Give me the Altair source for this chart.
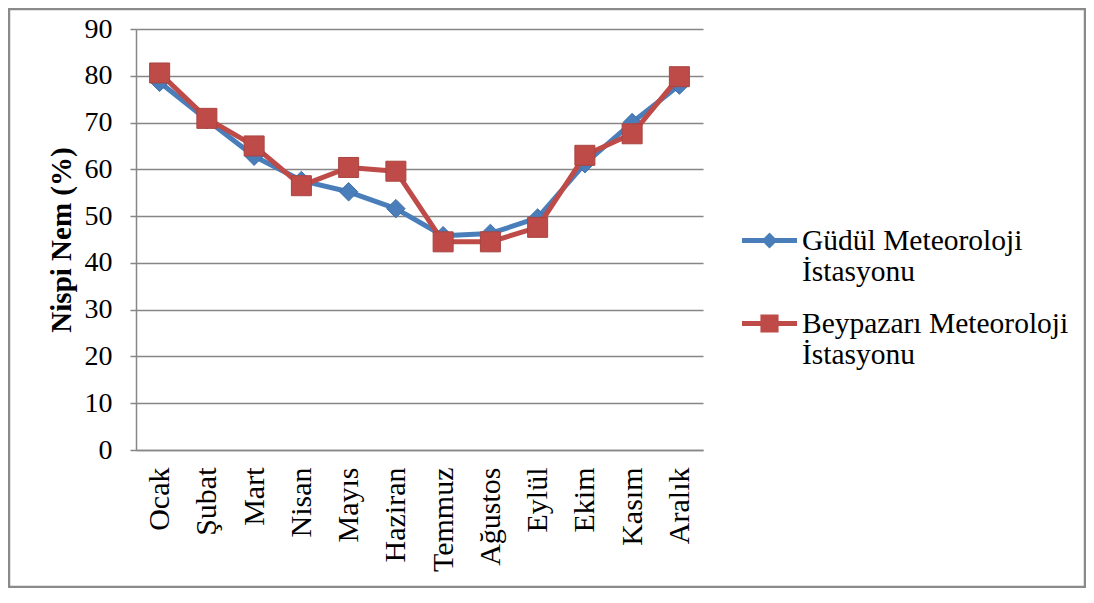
import altair as alt
import pandas as pd

months = ["Ocak", "Şubat", "Mart", "Nisan", "Mayıs", "Haziran",
          "Temmuz", "Ağustos", "Eylül", "Ekim", "Kasım", "Aralık"]
gudul = [78.6, 70.6, 62.8, 57.6, 55.2, 51.6, 45.8, 46.3, 49.6, 61.2, 70.0, 78.0]
beypazari = [80.6, 70.9, 65.0, 56.5, 60.4, 59.6, 44.5, 44.5, 47.6, 63.0, 67.6, 79.8]
series_names = ["Güdül Meteoroloji İstasyonu", "Beypazarı Meteoroloji İstasyonu"]
y_ticks = [0, 10, 20, 30, 40, 50, 60, 70, 80, 90]

FONT = "Liberation Serif"
BLUE = "#4A7EBB"
RED = "#BE4B48"

df = pd.DataFrame({
    "ay": months * 2,
    "nem": gudul + beypazari,
    "seri": [series_names[0]] * 12 + [series_names[1]] * 12,
})

W, H = 567, 421
PL, PT, PR, PB = 128, 21, 383, 138

x_enc = alt.X("ay:N", sort=months,
              scale=alt.Scale(type="point", padding=0.5),
              axis=alt.Axis(title=None, labelAngle=-90, labelFont=FONT, labelFontSize=30,
                            labelColor="black", labelPadding=17, ticks=False,
                            domainColor="#868686", domainWidth=1.5, grid=False,
                            labelAlign="right", labelBaseline="middle"))
y_enc = alt.Y("nem:Q",
              scale=alt.Scale(domain=[0, 90], nice=False, zero=True),
              axis=alt.Axis(title="Nispi Nem (%)", values=y_ticks, labelFont=FONT,
                            labelFontSize=28, labelColor="black", labelPadding=18,
                            tickSize=6, tickColor="#868686", tickWidth=1.5,
                            domainColor="#868686", domainWidth=1.5,
                            gridColor="#868686", gridWidth=1.5,
                            titleFont=FONT, titleFontSize=29, titleFontWeight="bold",
                            titleColor="black", titlePadding=8))

base = alt.Chart(df).encode(x=x_enc, y=y_enc)

def series_layers(name, color, shape, size, stroke):
    sub = base.transform_filter(alt.datum.seri == name)
    line = sub.mark_line(color=color, strokeWidth=5, strokeCap="round", strokeJoin="round")
    pts = sub.mark_point(shape=shape, size=size, filled=True, fill=color,
                         stroke=stroke, strokeWidth=1, opacity=1)
    return line, pts

l1, p1 = series_layers(series_names[0], BLUE, "diamond", 340, "#3F6FA8")
l2, p2 = series_layers(series_names[1], RED, "square", 400, "#A94440")

path_diamond = ("M-1,-0.09 L-0.2,-0.09 L0,-0.29 L0.2,-0.09 L1,-0.09 L1,0.09 "
                "L0.2,0.09 L0,0.29 L-0.2,0.09 L-1,0.09 Z")
path_square = ("M-1,-0.09 L-0.33,-0.09 L-0.33,-0.33 L0.33,-0.33 L0.33,-0.09 L1,-0.09 "
               "L1,0.09 L0.33,0.09 L0.33,0.33 L-0.33,0.33 L-0.33,0.09 L-1,0.09 Z")

leg = alt.Legend(orient="none", legendX=606, legendY=184, title=None, padding=0,
                 symbolSize=3025, symbolStrokeWidth=0, symbolOpacity=1,
                 labelFont=FONT, labelFontSize=29.5,
                 labelColor="black", labelLimit=0, labelOffset=5, rowPadding=9,
                 labelBaseline="middle",
                 labelExpr="[slice(datum.label, 0, indexof(datum.label, ' İ')), "
                           "slice(datum.label, indexof(datum.label, ' İ') + 1)]")

legend_layer = alt.Chart(df).transform_filter("false").mark_point(
    filled=True, opacity=1
).encode(
    x=alt.X("ay:N", sort=months),
    y=alt.Y("nem:Q"),
    color=alt.Color("seri:N", scale=alt.Scale(domain=series_names, range=[BLUE, RED]),
                    legend=leg),
    shape=alt.Shape("seri:N", scale=alt.Scale(domain=series_names,
                                              range=[path_diamond, path_square]),
                    legend=leg),
)

border = alt.Chart(pd.DataFrame({"k": [0]})).mark_rect(
    fillOpacity=0, stroke="#8a8a8a", strokeWidth=2.5
).encode(
    x=alt.value(-PL + 1), x2=alt.value(W + PR - 1),
    y=alt.value(-PT + 1), y2=alt.value(H + PB - 1),
)

chart = alt.layer(border, l1, p1, l2, p2, legend_layer).properties(
    width=W, height=H,
    autosize=alt.AutoSizeParams(type="none"),
    padding={"left": PL, "top": PT, "right": PR, "bottom": PB},
    background="white",
).configure_view(strokeWidth=0)

chart.save("out.html", embed_options={"renderer": "svg", "actions": False})
